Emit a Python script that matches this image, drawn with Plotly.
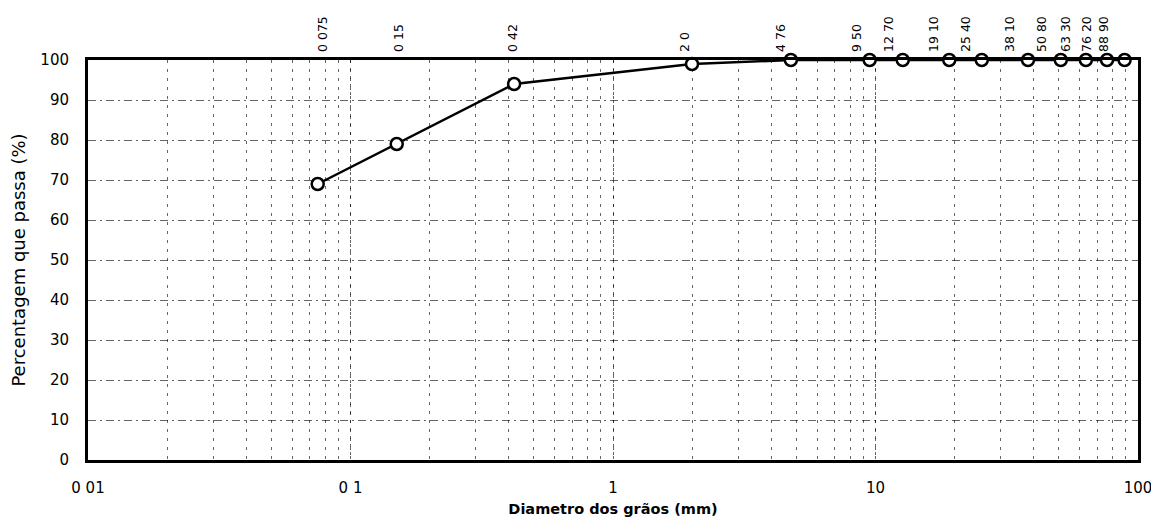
import plotly.graph_objects as go

# Data
sieve_mm = [0.075, 0.15, 0.42, 2.0, 4.76, 9.5, 12.7, 19.1, 25.4, 38.1, 50.8, 63.3, 76.2, 88.9]
passing_pct = [69, 79, 94, 99, 100, 100, 100, 100, 100, 100, 100, 100, 100, 100]
sieve_labels = ["0 075", "0 15", "0 42", "2 0", "4 76", "9 50", "12 70", "19 10",
                "25 40", "38 10", "50 80", "63 30", "76 20", "88 90"]
x_tick_vals = [0.01, 0.1, 1, 10, 100]
x_tick_text = ["0 01", "0 1", "1", "10", "100"]
y_tick_vals = [0, 10, 20, 30, 40, 50, 60, 70, 80, 90, 100]

FONT = "DejaVu Sans, Liberation Sans, Arial, sans-serif"

fig = go.Figure()
fig.add_trace(go.Scatter(
    x=sieve_mm, y=passing_pct, mode="lines+markers",
    line=dict(color="black", width=2.5),
    marker=dict(symbol="circle", size=12, color="white",
                line=dict(color="black", width=2.5)),
    cliponaxis=False, showlegend=False, hoverinfo="x+y",
))
# invisible trace carrying the top sieve-size axis
fig.add_trace(go.Scatter(
    x=sieve_mm, y=passing_pct, xaxis="x2", mode="markers",
    marker=dict(opacity=0), showlegend=False, hoverinfo="skip",
))

grid_col = "rgba(0,0,0,0.6)"
fig.update_layout(
    width=1151, height=523,
    margin=dict(l=80, r=21, t=52, b=71),
    paper_bgcolor="white", plot_bgcolor="white",
    font=dict(family=FONT, color="black", size=14),
    xaxis=dict(
        type="log", range=[-2, 2], automargin=False,
        tickvals=x_tick_vals, ticktext=x_tick_text,
        tickfont=dict(size=15, family=FONT),
        ticks="", ticklabelstandoff=12,
        showline=True, linecolor="black", linewidth=3, mirror=True,
        showgrid=True, gridcolor=grid_col, gridwidth=1, griddash="3px,5px",
        minor=dict(dtick="D1", showgrid=True, gridcolor=grid_col,
                   gridwidth=1, griddash="3px,6px", ticks=""),
        zeroline=False,
        title=dict(text="<b>Diametro dos grãos (mm)</b>",
                   font=dict(size=14.5, family=FONT), standoff=8),
    ),
    xaxis2=dict(
        type="log", overlaying="x", side="top", anchor="y", automargin=False,
        range=[-2.0495, 2.0834],
        tickvals=sieve_mm, ticktext=sieve_labels, tickangle=-90,
        tickfont=dict(size=12.5, family=FONT),
        ticks="", showgrid=False, showline=False, zeroline=False,
        ticklabelstandoff=7,
    ),
    yaxis=dict(
        range=[0, 100], tickvals=y_tick_vals, automargin=False,
        tickfont=dict(size=15, family=FONT),
        ticks="", ticklabelstandoff=13,
        showline=True, linecolor="black", linewidth=3, mirror=True,
        showgrid=True, gridcolor=grid_col, gridwidth=1, griddash="8px,4px,2px,4px",
        zeroline=False,
        title=dict(text="Percentagem que passa (%)",
                   font=dict(size=18, family=FONT), standoff=20),
    ),
)

fig.write_html("out.html")
